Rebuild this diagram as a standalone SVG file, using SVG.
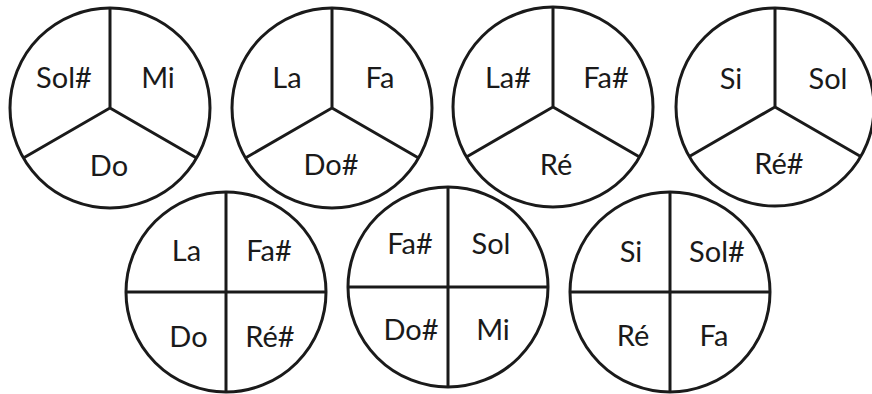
<svg xmlns="http://www.w3.org/2000/svg" width="872" height="394" viewBox="0 0 872 394">
<style>
.c{fill:#fff;stroke:#1a1a1a;stroke-width:3}
.s{stroke:#1a1a1a;stroke-width:3;fill:none}
text{font-family:Lato,"Open Sans",sans-serif;font-size:29px;fill:#1a1a1a;text-anchor:middle}
</style>
<rect width="872" height="394" fill="#fff"/>
<g id="c1">
<circle class="c" cx="110" cy="108" r="100"/>
<path class="s" d="M110 8V108L23.4 158M110 108L196.6 158"/>
<text x="64" y="88">Sol#</text><text x="158" y="88">Mi</text><text x="109" y="176">Do</text>
</g>
<g id="c2">
<circle class="c" cx="332" cy="108" r="100"/>
<path class="s" d="M332 8V108L245.4 158M332 108L418.6 158"/>
<text x="287" y="88">La</text><text x="380" y="88">Fa</text><text x="331" y="175">Do#</text>
</g>
<g id="c3">
<circle class="c" cx="553" cy="107" r="100"/>
<path class="s" d="M553 7V107L466.4 157M553 107L639.6 157"/>
<text x="508" y="88">La#</text><text x="606" y="88">Fa#</text><text x="556" y="175">Ré</text>
</g>
<g id="c4">
<circle class="c" cx="775" cy="107" r="99"/>
<path class="s" d="M775 8V107L689.3 156.5M775 107L860.7 156.5"/>
<text x="731" y="89">Si</text><text x="828" y="89">Sol</text><text x="779" y="174">Ré#</text>
</g>
<g id="c5">
<circle class="c" cx="226" cy="292" r="100"/>
<path class="s" d="M226 192V392M126 292H326"/>
<text x="186.5" y="261">La</text><text x="269" y="261">Fa#</text><text x="188.5" y="347">Do</text><text x="270" y="347">Ré#</text>
</g>
<g id="c6">
<circle class="c" cx="448" cy="287" r="100"/>
<path class="s" d="M448 187V387M348 287H548"/>
<text x="410" y="254">Fa#</text><text x="491" y="254">Sol</text><text x="411" y="340">Do#</text><text x="493" y="340">Mi</text>
</g>
<g id="c7">
<circle class="c" cx="670" cy="292" r="100"/>
<path class="s" d="M670 192V392M570 292H770"/>
<text x="631" y="262">Si</text><text x="717" y="262">Sol#</text><text x="633" y="346">Ré</text><text x="714" y="346">Fa</text>
</g>
<g id="connectors"/>
</svg>
